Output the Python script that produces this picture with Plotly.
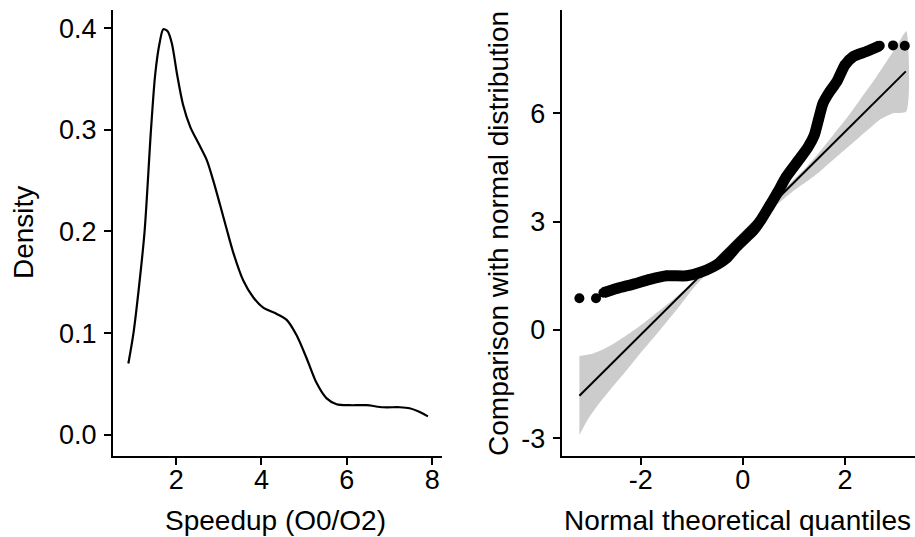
import plotly.graph_objects as go

# ---- Left panel: density of speedup ----
density_x = [0.88, 1.00, 1.12, 1.26, 1.41, 1.51, 1.61, 1.70, 1.80, 1.90, 2.02, 2.16, 2.33,
             2.52, 2.72, 2.87, 3.03, 3.18, 3.34, 3.57, 3.81, 4.04, 4.35, 4.59, 4.82, 5.06,
             5.29, 5.52, 5.76, 6.07, 6.46, 6.85, 7.24, 7.47, 7.67, 7.90]
density_y = [0.070, 0.100, 0.142, 0.200, 0.300, 0.355, 0.385, 0.399, 0.397, 0.385, 0.355,
             0.325, 0.303, 0.287, 0.270, 0.250, 0.226, 0.203, 0.179, 0.152, 0.135, 0.125,
             0.119, 0.113, 0.098, 0.075, 0.051, 0.036, 0.030, 0.029, 0.029, 0.027, 0.027,
             0.026, 0.023, 0.018]
left_xticks = [2, 4, 6, 8]
left_xticklabels = ["2", "4", "6", "8"]
left_yticks = [0.0, 0.1, 0.2, 0.3, 0.4]
left_yticklabels = ["0.0", "0.1", "0.2", "0.3", "0.4"]

# ---- Right panel: normal Q-Q plot ----
qq_theoretical = [-3.20, -2.875, -2.73, -2.47, -2.14, -1.82, -1.49, -1.10, -0.84, -0.58, -0.32,
                  -0.12, 0.07, 0.20, 0.36, 0.52, 0.68, 0.85, 1.10, 1.27, 1.40, 1.48, 1.57,
                  1.70, 1.84, 2.00, 2.16, 2.42, 2.68, 2.94, 3.17]
qq_sample = [0.88, 0.88, 1.03, 1.15, 1.27, 1.40, 1.50, 1.50, 1.59, 1.75, 1.99, 2.31, 2.57,
             2.75, 3.06, 3.43, 3.81, 4.24, 4.72, 5.05, 5.40, 5.82, 6.28, 6.60, 6.88, 7.34,
             7.57, 7.71, 7.87, 7.88, 7.87]
ref_line_x = [-3.20, 3.19]
ref_line_y = [-1.82, 7.16]
band_upper_x = [-3.20, -2.93, -2.73, -2.54, -2.27, -1.95, -1.62, -1.30, -0.97, -0.50, 0.00,
                0.50, 1.00, 1.25, 1.51, 1.77, 2.03, 2.29, 2.55, 2.81, 3.01, 3.20]
band_upper_y = [-0.72, -0.65, -0.535, -0.39, -0.14, 0.18, 0.55, 0.92, 1.33, 2.03, 2.74,
                3.45, 4.17, 4.52, 4.94, 5.40, 5.86, 6.37, 6.88, 7.43, 7.85, 8.27]
band_lower_x = [-3.20, -3.06, -2.86, -2.60, -2.27, -1.95, -1.62, -1.30, -0.97, -0.50, 0.00,
                0.50, 1.00, 1.25, 1.51, 1.77, 2.03, 2.29, 2.49, 2.68, 2.94, 3.20]
band_lower_y = [-2.91, -2.54, -2.12, -1.66, -1.11, -0.55, 0.00, 0.55, 1.155, 1.87, 2.58,
                3.26, 3.86, 4.11, 4.39, 4.71, 5.03, 5.35, 5.59, 5.82, 6.00, 6.05]
right_xticks = [-2, 0, 2]
right_xticklabels = ["-2", "0", "2"]
right_yticks = [-3, 0, 3, 6]
right_yticklabels = ["-3", "0", "3", "6"]

FONT = "Liberation Sans, Arial, Helvetica, sans-serif"
TICK_SIZE = 27
TITLE_SIZE = 28

fig = go.Figure()

fig.add_trace(go.Scatter(x=density_x, y=density_y, mode="lines",
                         line=dict(color="black", width=2.2, shape="spline", smoothing=0.8),
                         xaxis="x", yaxis="y", showlegend=False, hoverinfo="skip"))

# confidence band polygon
poly_x = band_upper_x + band_lower_x[::-1]
poly_y = band_upper_y + band_lower_y[::-1]
fig.add_trace(go.Scatter(x=poly_x, y=poly_y, mode="lines", fill="toself",
                         fillcolor="rgb(204,204,204)", line=dict(width=0, shape="spline", smoothing=0.6),
                         xaxis="x2", yaxis="y2", showlegend=False, hoverinfo="skip"))
fig.add_trace(go.Scatter(x=ref_line_x, y=ref_line_y, mode="lines",
                         line=dict(color="black", width=2),
                         xaxis="x2", yaxis="y2", showlegend=False, hoverinfo="skip"))
# dense run of points
fig.add_trace(go.Scatter(x=qq_theoretical[2:-2], y=qq_sample[2:-2], mode="lines+markers",
                         line=dict(color="black", width=11, shape="spline", smoothing=0.6),
                         marker=dict(color="black", size=10),
                         xaxis="x2", yaxis="y2", showlegend=False, hoverinfo="skip"))
# isolated points
iso_idx = [0, 1, len(qq_theoretical) - 2, len(qq_theoretical) - 1]
fig.add_trace(go.Scatter(x=[qq_theoretical[i] for i in iso_idx],
                         y=[qq_sample[i] for i in iso_idx], mode="markers",
                         marker=dict(color="black", size=10),
                         xaxis="x2", yaxis="y2", showlegend=False, hoverinfo="skip"))

axis_common = dict(showline=True, linecolor="black", linewidth=2, ticks="outside",
                   ticklen=7, tickwidth=2, tickcolor="black", showgrid=False, zeroline=False,
                   tickfont=dict(family=FONT, size=TICK_SIZE, color="black"), mirror=False)

fig.update_layout(
    width=915, height=537,
    margin=dict(l=113, r=0, t=10, b=81),
    paper_bgcolor="white", plot_bgcolor="white",
    xaxis=dict(domain=[0, 0.4102], range=[0.52, 8.23], tickvals=left_xticks,
               ticktext=left_xticklabels, anchor="y", ticklabelstandoff=-8, **axis_common),
    yaxis=dict(domain=[0, 1], range=[-0.021, 0.418], tickvals=left_yticks,
               ticktext=left_yticklabels, anchor="x", ticklabelstandoff=2, **axis_common),
    xaxis2=dict(domain=[0.5595, 1], range=[-3.546, 3.37], tickvals=right_xticks,
                ticktext=right_xticklabels, anchor="y2", ticklabelstandoff=-8, **axis_common),
    yaxis2=dict(domain=[0, 1], range=[-3.49, 8.86], tickvals=right_yticks,
                ticktext=right_yticklabels, anchor="x2", ticklabelstandoff=2, **axis_common),
)

ann_font = dict(family=FONT, size=TITLE_SIZE, color="black")
fig.add_annotation(text="Speedup (O0/O2)", xref="paper", yref="paper", x=0.2025, y=-0.1435,
                   xanchor="center", yanchor="middle", showarrow=False, font=ann_font)
fig.add_annotation(text="Density", xref="paper", yref="paper", x=-0.1122, y=0.5,
                   xanchor="center", yanchor="middle", textangle=-90, showarrow=False, font=ann_font)
fig.add_annotation(text="Normal theoretical quantiles", xref="paper", yref="paper", x=0.7787,
                   y=-0.1435, xanchor="center", yanchor="middle", showarrow=False, font=ann_font)
fig.add_annotation(text="Comparison with normal distribution", xref="paper", yref="paper",
                   x=0.480, y=0.5, xanchor="center", yanchor="middle", textangle=-90,
                   showarrow=False, font=ann_font)

fig.write_html("out.html", config={"displayModeBar": False},
               post_script="document.body.style.margin='0';")
